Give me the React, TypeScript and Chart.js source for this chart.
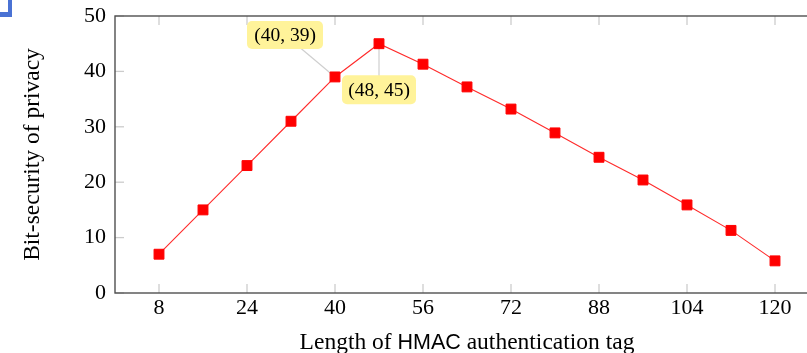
import React, { useEffect, useRef } from 'react';
import { Chart, registerables } from 'chart.js';

Chart.register(...registerables);

// ---- data ----
const xValues = [8, 16, 24, 32, 40, 48, 56, 64, 72, 80, 88, 96, 104, 112, 120];
const yValues = [7, 15, 23, 31, 39, 45, 41.3, 37.2, 33.2, 28.9, 24.5, 20.4, 15.9, 11.3, 5.8];
const xTickValues = [8, 24, 40, 56, 72, 88, 104, 120];
const yTickValues = [0, 10, 20, 30, 40, 50];
const xTitleParts = ['Length of ', 'HMAC', ' authentication tag'];
const yTitle = 'Bit-security of privacy';
const annotatedX = [40, 48];
const annotatedY = [39, 45];
const annotationLabels = ['(40, 39)', '(48, 45)'];

// ---- styling ----
const SERIF = '"Liberation Serif", "DejaVu Serif", serif';
const SANS = '"Liberation Sans", "DejaVu Sans", sans-serif';
const boxStyles = [
  { dx: -50, dy: -42, w: 76, h: 28 },
  { dx: 0, dy: 46, w: 74, h: 29 },
];

const decorPlugin = {
  id: 'decor',
  beforeDatasetsDraw(chart: any) {
    const { ctx, chartArea: a, scales } = chart;
    const xs = scales.x;
    const ys = scales.y;
    ctx.save();
    const seg = (x1: number, y1: number, x2: number, y2: number) => {
      ctx.beginPath();
      ctx.moveTo(x1, y1);
      ctx.lineTo(x2, y2);
      ctx.stroke();
    };
    // inner tick marks
    ctx.strokeStyle = '#cccccc';
    ctx.lineWidth = 1.3;
    const tl = 9;
    xTickValues.forEach((v) => {
      const px = xs.getPixelForValue(v);
      seg(px, a.top, px, a.top + tl);
      seg(px, a.bottom, px, a.bottom - tl);
    });
    yTickValues.forEach((v) => {
      const py = ys.getPixelForValue(v);
      seg(a.left, py, a.left + tl, py);
      seg(a.right, py, a.right - tl, py);
    });
    // pins
    ctx.strokeStyle = '#cfcfcf';
    ctx.lineWidth = 1.2;
    annotatedX.forEach((xv, i) => {
      const px = xs.getPixelForValue(xv);
      const py = ys.getPixelForValue(annotatedY[i]);
      const b = boxStyles[i];
      seg(px, py, px + b.dx, py + b.dy);
    });
    // frame
    ctx.strokeStyle = '#505050';
    ctx.lineWidth = 1.4;
    ctx.strokeRect(a.left, a.top, a.right - a.left, a.bottom - a.top);
    ctx.restore();
  },
  afterDatasetsDraw(chart: any) {
    const { ctx, scales } = chart;
    ctx.save();
    annotatedX.forEach((xv, i) => {
      const px = scales.x.getPixelForValue(xv);
      const py = scales.y.getPixelForValue(annotatedY[i]);
      const b = boxStyles[i];
      const cx = px + b.dx;
      const cy = py + b.dy;
      ctx.fillStyle = '#fff39a';
      ctx.beginPath();
      if (ctx.roundRect) ctx.roundRect(cx - b.w / 2, cy - b.h / 2, b.w, b.h, 5);
      else ctx.rect(cx - b.w / 2, cy - b.h / 2, b.w, b.h);
      ctx.fill();
      ctx.fillStyle = '#000';
      ctx.font = `19.5px ${SERIF}`;
      ctx.textAlign = 'center';
      ctx.textBaseline = 'middle';
      ctx.fillText(annotationLabels[i], cx, cy + 1);
    });
    ctx.restore();
  },
  afterDraw(chart: any) {
    const { ctx, chartArea: a } = chart;
    ctx.save();
    ctx.fillStyle = '#000';
    // y title
    ctx.font = `23.5px ${SERIF}`;
    ctx.textAlign = 'center';
    ctx.textBaseline = 'middle';
    ctx.translate(33, (a.top + a.bottom) / 2);
    ctx.rotate(-Math.PI / 2);
    ctx.fillText(yTitle, 0, 0);
    ctx.setTransform(1, 0, 0, 1, 0, 0);
    // x title (mixed fonts)
    const fonts = [`23.5px ${SERIF}`, `21.5px ${SANS}`, `23.5px ${SERIF}`];
    const widths = xTitleParts.map((t, i) => {
      ctx.font = fonts[i];
      return ctx.measureText(t).width;
    });
    const total = widths.reduce((s, w) => s + w, 0);
    let x = (a.left + a.right) / 2 - total / 2;
    ctx.textAlign = 'left';
    ctx.textBaseline = 'alphabetic';
    xTitleParts.forEach((t, i) => {
      ctx.font = fonts[i];
      ctx.fillText(t, x, 349);
      x += widths[i];
    });
    ctx.restore();
  },
};

export default function App() {
  const canvasRef = useRef<HTMLCanvasElement | null>(null);

  useEffect(() => {
    if (!canvasRef.current) return;
    const chart = new Chart(canvasRef.current, {
      type: 'line',
      data: {
        datasets: [
          {
            data: xValues.map((x, i) => ({ x, y: yValues[i] })),
            borderColor: '#ff2a2a',
            borderWidth: 1.1,
            pointStyle: 'rect',
            pointRadius: 7,
            pointBackgroundColor: '#ff0000',
            pointBorderColor: '#ff0000',
            pointBorderWidth: 1,
            tension: 0,
          },
        ],
      },
      options: {
        responsive: false,
        animation: false,
        devicePixelRatio: 1,
        layout: { padding: { top: 16, right: 21, left: 0, bottom: 0 } },
        plugins: { legend: { display: false }, tooltip: { enabled: false } },
        scales: {
          x: {
            type: 'linear',
            min: 0,
            max: 128,
            grid: { display: false, drawTicks: false },
            border: { display: false },
            afterBuildTicks: (s: any) => {
              s.ticks = xTickValues.map((v) => ({ value: v }));
            },
            afterFit: (s: any) => {
              s.height = 60;
              s.paddingLeft = 0;
              s.paddingRight = 0;
            },
            ticks: {
              color: '#000',
              font: { family: SERIF, size: 22 },
              padding: 2,
              maxRotation: 0,
              autoSkip: false,
            },
          },
          y: {
            type: 'linear',
            min: 0,
            max: 50,
            grid: { display: false, drawTicks: false },
            border: { display: false },
            afterBuildTicks: (s: any) => {
              s.ticks = yTickValues.map((v) => ({ value: v }));
            },
            afterFit: (s: any) => {
              s.width = 115;
              s.paddingTop = 0;
              s.paddingBottom = 0;
            },
            ticks: {
              color: '#000',
              font: { family: SERIF, size: 22 },
              padding: 9,
            },
          },
        },
      },
      plugins: [decorPlugin],
    } as any);
    return () => chart.destroy();
  }, []);

  return (
    <div
      style={{
        position: 'fixed',
        left: 0,
        top: 0,
        width: 807,
        height: 353,
        overflow: 'hidden',
        background: '#fff',
      }}
    >
      <canvas ref={canvasRef} width={840} height={353} style={{ display: 'block' }} />
      <div
        style={{
          position: 'absolute',
          left: 0,
          top: 0,
          width: 12,
          height: 17,
          boxSizing: 'border-box',
          borderRight: '4px solid #4a72d4',
          borderBottom: '5px solid #4a72d4',
        }}
      />
    </div>
  );
}
